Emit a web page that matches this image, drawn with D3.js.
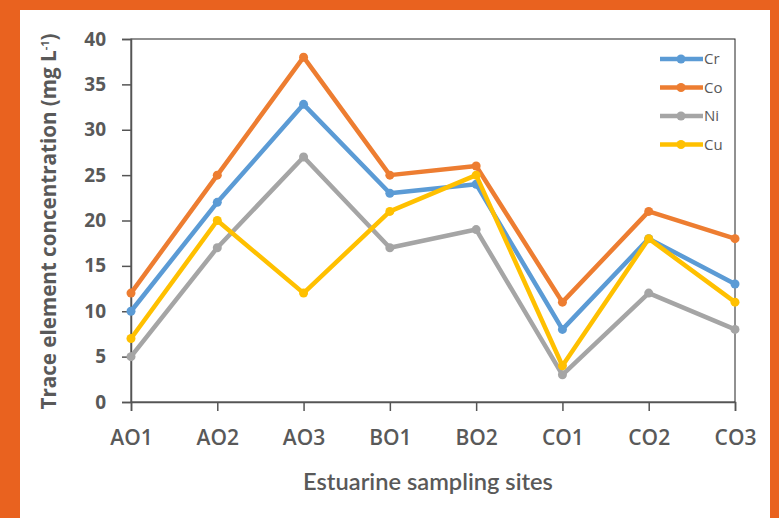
<!DOCTYPE html>
<html>
<head>
<meta charset="utf-8">
<script src="https://cdn.jsdelivr.net/npm/d3@7"></script>
<style>
  body { margin: 0; background: #e9621f; }
  text { font-family: "Open Sans", Lato, sans-serif; fill: #595959; }
</style>
</head>
<body>
<script>
// chart values
var sites = ["AO1", "AO2", "AO3", "BO1", "BO2", "CO1", "CO2", "CO3"];
var cr = [10, 22, 32.8, 23, 24, 8, 18, 13];
var co = [12, 25, 38, 25, 26, 11, 21, 18];
var ni = [5, 17, 27, 17, 19, 3, 12, 8];
var cu = [7, 20, 12, 21, 25, 4, 18, 11];
var seriesNames = ["Cr", "Co", "Ni", "Cu"];
var seriesColors = ["#5b9bd5", "#ed7d31", "#a5a5a5", "#ffc000"];
var yTicks = [0, 5, 10, 15, 20, 25, 30, 35, 40];

var series = [cr, co, ni, cu].map(function(vals, i) {
    return { name: seriesNames[i], color: seriesColors[i], values: vals };
});

var W = 779, H = 518;
var margin = {top: 39, right: 44, bottom: 116, left: 131},
    width = W - margin.left - margin.right,
    height = H - margin.top - margin.bottom;

var svg = d3.select("body").append("svg")
    .attr("width", W)
    .attr("height", H);

// white panel
svg.append("rect")
    .attr("x", 20).attr("y", 10)
    .attr("width", 750).attr("height", 508)
    .attr("fill", "#ffffff");

var g = svg.append("g")
    .attr("transform", "translate(" + margin.left + "," + margin.top + ")");

var x = d3.scalePoint().domain(sites).range([0, width]);
var y = d3.scaleLinear().domain([0, 40]).range([height, 0]);

// plot box
g.append("rect")
    .attr("width", width).attr("height", height)
    .attr("fill", "none").attr("stroke", "#222").attr("stroke-width", 1);

// y axis
var yAxis = g.append("g")
    .call(d3.axisLeft(y).tickValues(yTicks).tickSize(9).tickPadding(16));
yAxis.select(".domain").attr("stroke", "#555").attr("stroke-width", 1.5);
yAxis.selectAll(".tick line").attr("stroke", "#555").attr("stroke-width", 1.5);
yAxis.selectAll("text")
    .style("font-family", "'Open Sans', sans-serif")
    .style("font-size", "19px").style("font-weight", "bold").attr("fill", "#595959");

// x axis
var xAxis = g.append("g")
    .attr("transform", "translate(0," + height + ")")
    .call(d3.axisBottom(x).tickSize(9).tickPadding(19));
xAxis.select(".domain").attr("stroke", "#555").attr("stroke-width", 1.5);
xAxis.selectAll(".tick line").attr("stroke", "#555").attr("stroke-width", 1.5);
xAxis.selectAll("text")
    .style("font-family", "'Open Sans', sans-serif")
    .style("font-size", "21px").style("font-weight", "600").attr("fill", "#595959");

// lines and points
var line = d3.line()
    .x(function(d, i) { return x(sites[i]); })
    .y(function(d) { return y(d); });

series.forEach(function(s) {
    g.append("path")
        .datum(s.values)
        .attr("d", line)
        .attr("fill", "none")
        .attr("stroke", s.color)
        .attr("stroke-width", 4.5)
        .attr("stroke-linejoin", "round");
    g.selectAll(null)
        .data(s.values)
        .enter().append("circle")
        .attr("cx", function(d, i) { return x(sites[i]); })
        .attr("cy", function(d) { return y(d); })
        .attr("r", 4.5)
        .attr("fill", s.color);
});

// legend
var legend = svg.append("g").attr("transform", "translate(660,59)");
series.forEach(function(s, i) {
    var row = legend.append("g").attr("transform", "translate(0," + (i * 28.5) + ")");
    row.append("line")
        .attr("x1", 0).attr("x2", 43)
        .attr("stroke", s.color).attr("stroke-width", 4.5);
    row.append("circle").attr("cx", 21).attr("r", 4.5).attr("fill", s.color);
    row.append("text")
        .attr("x", 44).attr("dy", "0.35em")
        .style("font-size", "15px")
        .text(s.name);
});

// shrink or grow a title so it spans the same length as in the reference
function fitText(sel, target, size) {
    var len = sel.node().getComputedTextLength();
    sel.style("font-size", (size * target / len).toFixed(2) + "px");
}

// axis titles
var yTitle = svg.append("text")
    .attr("transform", "translate(" + 56 + "," + (margin.top + height / 2 + 1) + ") rotate(-90)")
    .attr("text-anchor", "middle")
    .style("font-size", "19px").style("font-weight", "bold")
    .html('Trace element concentration (mg L<tspan dy="-7" font-size="11px">-1</tspan><tspan dy="7">)</tspan>');
fitText(yTitle, 377, 19);

var xTitle = svg.append("text")
    .attr("x", 428).attr("y", 490)
    .attr("text-anchor", "middle")
    .style("font-family", "Lato, sans-serif")
    .style("font-size", "20px").style("font-weight", "600")
    .text("Estuarine sampling sites");
fitText(xTitle, 250, 20);
</script>
</body>
</html>
